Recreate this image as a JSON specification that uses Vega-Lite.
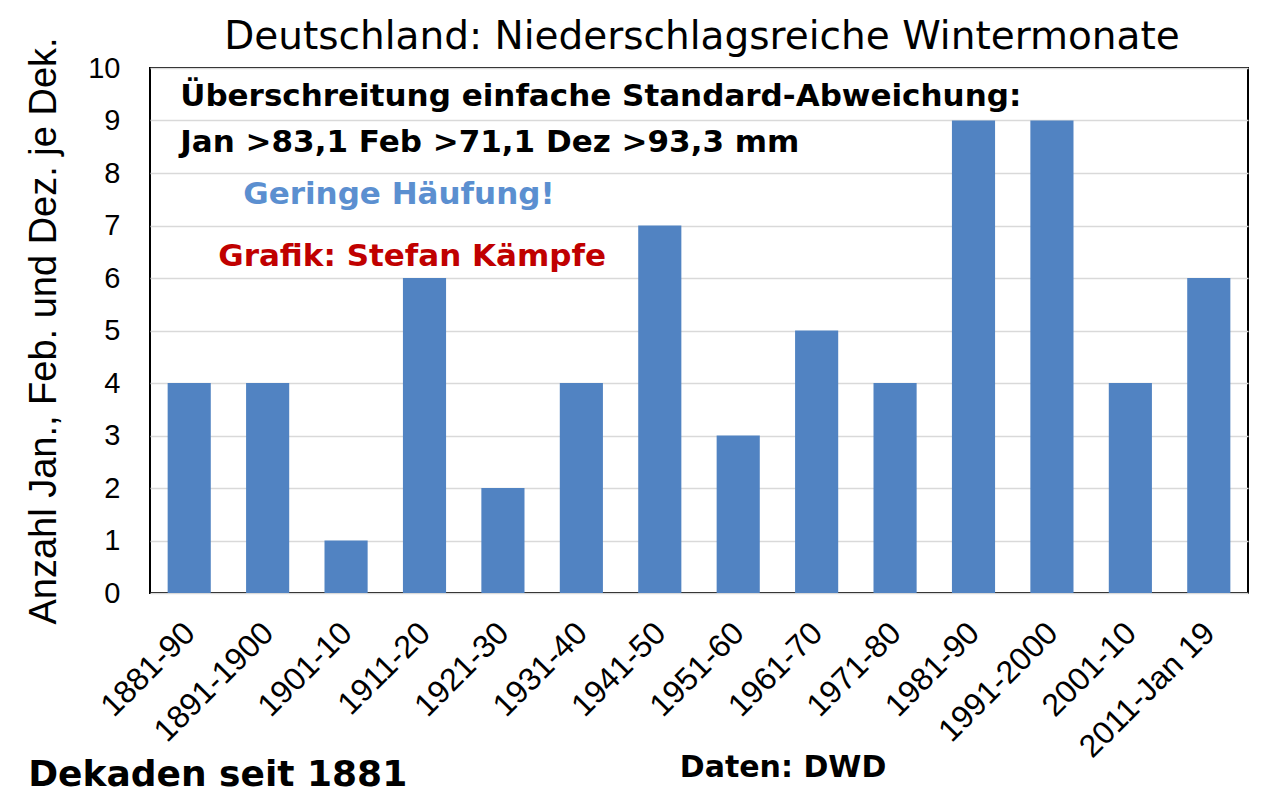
{
  "$schema": "https://vega.github.io/schema/vega-lite/v6.json",
  "width": 1098,
  "height": 525,
  "autosize": {"type": "none"},
  "padding": {"left": 150, "top": 68, "right": 35, "bottom": 216},
  "background": "white",
  "config": {
    "font": "Liberation Sans",
    "view": {"stroke": "black", "strokeWidth": 2}
  },
  "title": {
    "text": "Deutschland: Niederschlagsreiche Wintermonate",
    "font": "DejaVu Sans",
    "fontSize": 39,
    "fontWeight": "normal",
    "color": "black",
    "anchor": "middle",
    "offset": 0,
    "dy": 20,
    "dx": 3
  },
  "datasets": {
    "bars": [
      {"dekade": "1881-90", "anzahl": 4},
      {"dekade": "1891-1900", "anzahl": 4},
      {"dekade": "1901-10", "anzahl": 1},
      {"dekade": "1911-20", "anzahl": 6},
      {"dekade": "1921-30", "anzahl": 2},
      {"dekade": "1931-40", "anzahl": 4},
      {"dekade": "1941-50", "anzahl": 7},
      {"dekade": "1951-60", "anzahl": 3},
      {"dekade": "1961-70", "anzahl": 5},
      {"dekade": "1971-80", "anzahl": 4},
      {"dekade": "1981-90", "anzahl": 9},
      {"dekade": "1991-2000", "anzahl": 9},
      {"dekade": "2001-10", "anzahl": 4},
      {"dekade": "2011-Jan 19", "anzahl": 6}
    ]
  },
  "encoding": {
    "x": {
      "field": "dekade",
      "type": "nominal",
      "sort": null,
      "scale": {"paddingInner": 0.45, "paddingOuter": 0.225},
      "axis": {
        "title": null,
        "labelAngle": -45,
        "labelFont": "Liberation Sans",
        "labelFontSize": 32,
        "labelColor": "black",
        "labelPadding": 24,
        "labelOffset": -10,
        "ticks": false,
        "domain": false
      }
    },
    "y": {
      "field": "anzahl",
      "type": "quantitative",
      "scale": {"domain": [0, 10], "nice": false},
      "axis": {
        "title": "Anzahl Jan., Feb. und Dez. je Dek.",
        "titleFont": "Liberation Sans",
        "titleFontSize": 38,
        "titleFontWeight": "normal",
        "titleColor": "black",
        "titlePadding": 24,
        "values": [0, 1, 2, 3, 4, 5, 6, 7, 8, 9, 10],
        "labelFontSize": 29,
        "labelColor": "black",
        "labelPadding": 30,
        "ticks": false,
        "domain": false,
        "grid": true,
        "gridColor": "#D9D9D9",
        "gridWidth": 1.5
      }
    }
  },
  "layer": [
    {
      "data": {"name": "bars"},
      "mark": {"type": "bar", "color": "#5183C2"}
    },
    {
      "data": {"values": [{"dekade": "1881-90", "anzahl": 9.45, "t": "Überschreitung einfache Standard-Abweichung:"}]},
      "mark": {"type": "text", "align": "left", "baseline": "middle", "dx": -9, "font": "DejaVu Sans", "fontSize": 31, "fontWeight": "bold", "color": "black"},
      "encoding": {"text": {"field": "t"}}
    },
    {
      "data": {"values": [{"dekade": "1881-90", "anzahl": 8.57, "t": "Jan >83,1 Feb >71,1 Dez >93,3 mm"}]},
      "mark": {"type": "text", "align": "left", "baseline": "middle", "dx": -9, "font": "DejaVu Sans", "fontSize": 31, "fontWeight": "bold", "color": "black"},
      "encoding": {"text": {"field": "t"}}
    },
    {
      "data": {"values": [{"dekade": "1881-90", "anzahl": 7.58, "t": "Geringe Häufung!"}]},
      "mark": {"type": "text", "align": "left", "baseline": "middle", "dx": 54, "font": "DejaVu Sans", "fontSize": 31, "fontWeight": "bold", "color": "#5B8FD0"},
      "encoding": {"text": {"field": "t"}}
    },
    {
      "data": {"values": [{"dekade": "1881-90", "anzahl": 6.4, "t": "Grafik: Stefan Kämpfe"}]},
      "mark": {"type": "text", "align": "left", "baseline": "middle", "dx": 29, "font": "DejaVu Sans", "fontSize": 31, "fontWeight": "bold", "color": "#C00000"},
      "encoding": {"text": {"field": "t"}}
    },
    {
      "data": {"values": [{"dekade": "1881-90", "anzahl": -3.47, "t": "Dekaden seit 1881"}]},
      "mark": {"type": "text", "align": "left", "baseline": "middle", "dx": -161, "font": "DejaVu Sans", "fontSize": 36, "fontWeight": "bold", "color": "black"},
      "encoding": {"text": {"field": "t"}}
    },
    {
      "data": {"values": [{"dekade": "1941-50", "anzahl": -3.33, "t": "Daten: DWD"}]},
      "mark": {"type": "text", "align": "left", "baseline": "middle", "dx": 20, "font": "DejaVu Sans", "fontSize": 30, "fontWeight": "bold", "color": "black"},
      "encoding": {"text": {"field": "t"}}
    }
  ]
}
